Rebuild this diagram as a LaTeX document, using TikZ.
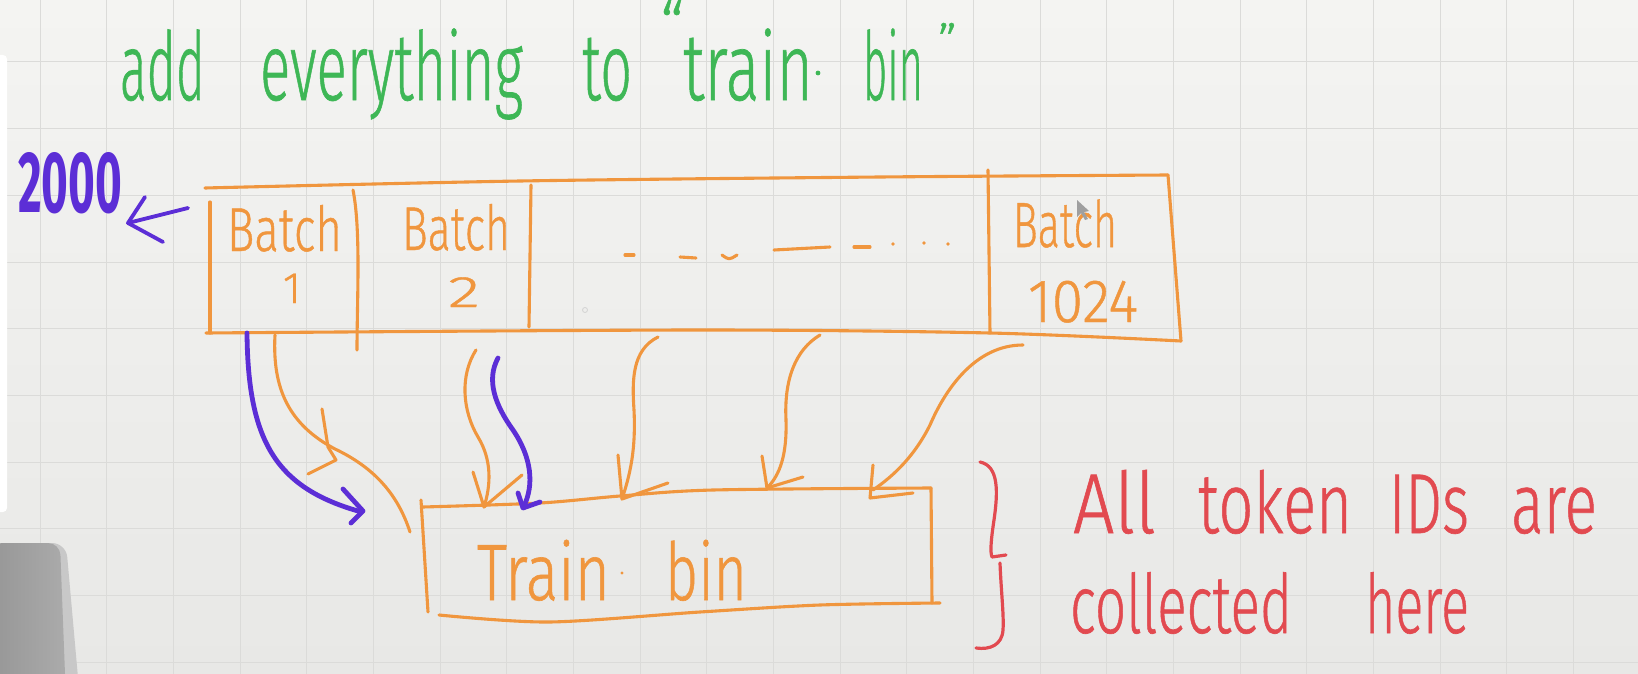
\documentclass[tikz,border=0pt]{standalone}
\usepackage{fontspec}
\newfontfamily\hand{Fira Sans Light}[FakeBold=0.8]
\newfontfamily\handbf{Fira Sans}
\definecolor{bgtop}{RGB}{244,244,242}
\definecolor{bgbot}{RGB}{232,232,230}
\definecolor{gridc}{RGB}{219,219,217}
\definecolor{greenC}{RGB}{62,183,86}
\definecolor{orangeC}{RGB}{240,150,62}
\definecolor{purpleC}{RGB}{92,46,214}
\definecolor{redC}{RGB}{226,74,80}
\definecolor{uigray}{RGB}{150,150,150}
\definecolor{uilight}{RGB}{200,200,200}
\newcommand\hw[3]{\resizebox{#1}{\height}{\hand\fontsize{#2}{#2}\selectfont #3}}
\tikzset{
  txt/.style={inner sep=0pt,outer sep=0pt,anchor=base west},
  gridline/.style={draw=gridc,line width=1pt},
  ostroke/.style={draw=orangeC,line width=3.1pt,line cap=round,line join=round},
  pstroke/.style={draw=purpleC,line width=4.8pt,line cap=round,line join=round},
  rstroke/.style={draw=redC,line width=3.2pt,line cap=round,line join=round},
}
\begin{document}
\begin{tikzpicture}[x=1pt,y=-1pt]
\useasboundingbox (0,0) rectangle (1638,674);
% background and grid
\shade[top color=bgtop,bottom color=bgbot] (0,0) rectangle (1638,674);
\foreach \i in {0,...,24} \draw[gridline] ({40+66.67*\i},0) -- ({40+66.67*\i},674);
\foreach \j in {0,...,9} \draw[gridline] (0,{62+66.67*\j}) -- (1638,{62+66.67*\j});
% screen UI remnants
\fill[white,rounded corners=4pt] (-10,55) rectangle (7,512);
\fill[uilight,rounded corners=14pt] (-10,543) -- (66,543) -- (80,700) -- (-10,700) -- cycle;
\shade[left color=uigray,right color=uigray!80!white,rounded corners=12pt] (-10,543) -- (60,543) -- (66,700) -- (-10,700) -- cycle;

% ---- title ----
\begin{scope}[text=greenC]
\node[txt] (tAdd)   at (120,100) {\hw{85pt}{95}{add}};
\node[txt] (tEvery) at (260,100) {\hw{263pt}{95}{everything}};
\node[txt] (tTo)    at (582,100) {\hw{50pt}{95}{to}};
\node[txt] (tQo)    at (660,52)  {\hw{24pt}{70}{“}};
\node[txt] (tTrain) at (683,100) {\hw{130pt}{95}{train}};
\node[txt] (tBin)   at (863,100) {\hw{60pt}{95}{bin}};
\node[txt] (tQc)    at (938,60)  {\hw{19pt}{50}{”}};
\end{scope}
\fill[greenC] (818,73) circle (2.4);

% ---- 2000 and its arrow ----
\node[txt,text=purpleC] (n2000) at (18,212) {\resizebox{104pt}{\height}{\handbf\bfseries\fontsize{87}{87}\selectfont 2000}};
\coordinate (aTip) at (128,223);
\coordinate (aTail) at (188,208);
\draw[pstroke,line width=3.8pt] (aTail) -- (aTip);
\draw[pstroke,line width=3.8pt] (145,197) -- (aTip) -- (163,242);

% ---- batch row ----
\coordinate (rTL) at (205,188);
\coordinate (rTR) at (1168,175);
\coordinate (rBL) at (206,333);
\coordinate (rBR) at (1181,341);
\draw[ostroke] plot[smooth,tension=0.5] coordinates {(rTL) (520,181) (880,177) (rTR)};
\draw[ostroke] (rTR) -- (rBR);
\draw[ostroke] plot[smooth,tension=0.5] coordinates {(rBL) (700,330) (990,333) (rBR)};
\draw[ostroke] (210,202) -- (210,333);
\draw[ostroke] (353,190) .. controls (361,230) and (357,300) .. (357,350);
\draw[ostroke] (531,185) -- (529,327);
\draw[ostroke] (988,170) -- (990,333);
% dashes
\draw[ostroke] (625,255) -- (634,255);
\draw[ostroke] (680,257) -- (696,258);
\draw[ostroke] (722,255) .. controls (729,260) .. (737,255);
\draw[ostroke] (774,250) -- (830,247);
\draw[ostroke] (854,247) -- (870,247);
\fill[orangeC] (893,244) circle (1.8) (924,243) circle (1.8) (948,244) circle (1.8);
\draw[gray!35,line width=0.8pt] (585,310) circle (2.5);

\begin{scope}[text=orangeC]
\node[txt] (b1)  at (227,251) {\hw{115pt}{62}{Batch}};
\node[inner sep=0pt,outer sep=0pt,anchor=base] (b1n) at (292,303) {\hand\fontsize{44}{44}\selectfont 1};
\node[txt] (b2)  at (402,250) {\hw{108pt}{62}{Batch}};
\node[txt] (b2n) at (448,307) {\hw{32pt}{44}{2}};
\node[txt] (b3)  at (1013,247) {\hw{104pt}{64}{Batch}};
\node[txt] (b3n) at (1028,322) {\hw{110pt}{61}{1024}};
\end{scope}
% mouse pointer
\fill[gray!75] (1077,200) -- (1077,217) -- (1081,213) -- (1085,220) -- (1088,219) -- (1084,212) -- (1089,211) -- cycle;

% ---- Train bin box ----
\coordinate (bTL) at (421,500);
\coordinate (bTR) at (931,488);
\coordinate (bBL) at (439,615);
\coordinate (bBR) at (940,603);
\draw[ostroke] (bTL) -- (428,612);
\draw[ostroke] plot[smooth,tension=0.5] coordinates {(423,507) (540,503) (620,496) (713,490) (bTR)};
\draw[ostroke] (bTR) -- (932,603);
\draw[ostroke] plot[smooth,tension=0.5] coordinates {(bBL) (549,622) (700,612) (820,605) (bBR)};
\begin{scope}[text=orangeC]
\node[txt] (tb1) at (477,600) {\hw{133pt}{80}{Train}};
\node[txt] (tb2) at (665,600) {\hw{82pt}{80}{bin}};
\end{scope}
\fill[orangeC] (622,573) circle (1.7);

% ---- arrows from batches into Train bin ----
% purple arrow from batch 1
\coordinate (sP1) at (247,333);
\coordinate (eP1) at (358,511);
\draw[pstroke] (sP1) .. controls (248,440) and (275,487) .. (eP1);
\draw[pstroke] (343,489) -- (363,511) -- (351,523);
% orange curve from batch 1
\coordinate (sO1) at (275,335);
\coordinate (eO1) at (410,532);
\draw[ostroke] (sO1) .. controls (272,390) and (290,425) .. (335,449) .. controls (375,468) and (398,495) .. (eO1);
\draw[ostroke] (322,409) -- (328,447) -- (336,460) -- (308,474);
% orange arrow from batch 2
\coordinate (sO2) at (476,350);
\coordinate (eO2) at (484,507);
\draw[ostroke] (sO2) .. controls (460,375) and (462,410) .. (478,437) .. controls (492,460) and (491,485) .. (eO2);
\draw[ostroke] (473,472) -- (eO2) -- (522,475);
% purple arrow from batch 2
\coordinate (sP2) at (498,358);
\coordinate (eP2) at (524,506);
\draw[pstroke] (sP2) .. controls (486,380) and (495,405) .. (513,430) .. controls (532,458) and (534,485) .. (eP2);
\draw[pstroke] (518,493) -- (523,508) -- (540,502);
% orange arrow 3
\coordinate (sO3) at (658,337);
\coordinate (eO3) at (622,499);
\draw[ostroke] (sO3) .. controls (632,350) and (632,380) .. (634,410) .. controls (636,450) and (630,475) .. (eO3);
\draw[ostroke] (618,455) -- (eO3) -- (668,483);
% orange arrow 4
\coordinate (sO4) at (820,335);
\coordinate (eO4) at (767,488);
\draw[ostroke] (sO4) .. controls (795,350) and (784,380) .. (786,420) .. controls (787,455) and (780,475) .. (eO4);
\draw[ostroke] (762,456) -- (eO4) -- (803,477);
% orange arrow 5
\coordinate (sO5) at (1023,345);
\coordinate (eO5) at (873,490);
\draw[ostroke] (sO5) .. controls (975,345) and (945,390) .. (930,425) .. controls (915,455) and (895,475) .. (eO5);
\draw[ostroke] (873,465) -- (870,498) -- (913,493);

% ---- brace and note ----
\draw[rstroke] (980,462) .. controls (999,466) and (998,492) .. (994,520) .. controls (991,540) and (990,552) .. (992,557) -- (1006,555);
\draw[rstroke] (1000,563) .. controls (1001,590) and (1004,615) .. (1003,630) .. controls (1002,645) and (990,650) .. (976,648);
\begin{scope}[text=redC]
\node[txt] (r1) at (1073,533) {\hw{83pt}{85}{All}};
\node[txt] (r2) at (1198,533) {\hw{154pt}{85}{token}};
\node[txt] (r3) at (1389,533) {\hw{80pt}{85}{IDs}};
\node[txt] (r4) at (1511,533) {\hw{86pt}{85}{are}};
\node[txt] (r5) at (1070,633) {\hw{222pt}{82}{collected}};
\node[txt] (r6) at (1365,633) {\hw{104pt}{82}{here}};
\end{scope}
\end{tikzpicture}
\end{document}
